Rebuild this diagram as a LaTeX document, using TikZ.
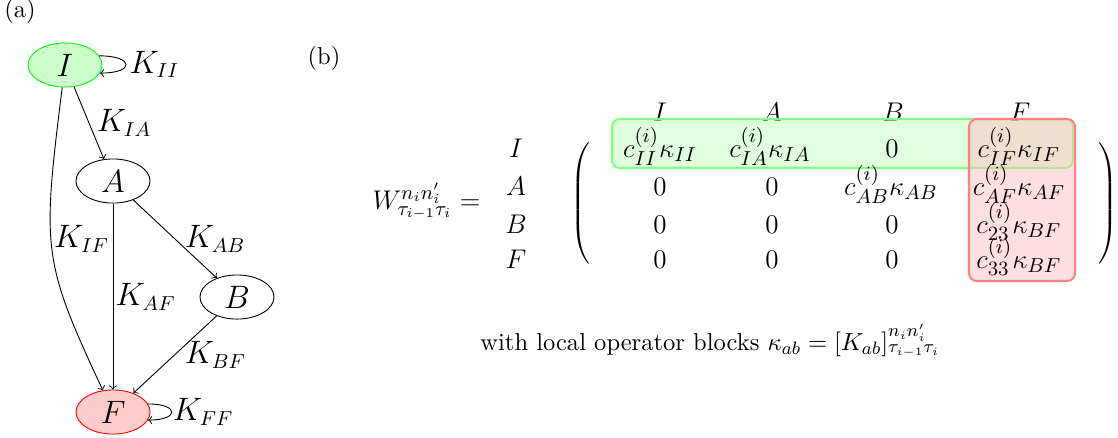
\documentclass[tikz,border=0pt]{standalone}
\usetikzlibrary{shapes.geometric}
\begin{document}
\begin{tikzpicture}[x=0.4444pt,y=-0.4444pt,
  basefont/.style={font=\fontsize{10.9}{13}\selectfont},
  gnode/.style={ellipse, draw, minimum width=32.9pt, minimum height=19.6pt, inner sep=0pt, font=\fontsize{13.5}{16}\selectfont},
  startnode/.style={fill=green!20, draw=green},
  endnode/.style={fill=red!20, draw=red},
  elabel/.style={font=\fontsize{13.5}{16}\selectfont, inner sep=0pt, anchor=west},
  arr/.style={->},
  mtext/.style={font=\fontsize{12.2}{14}\selectfont, inner sep=0pt, anchor=base},
  gbox/.style={draw=green!50, fill=green!25, fill opacity=0.5, line width=0.9pt, rounded corners=3.5pt},
  rbox/.style={draw=red!50, fill=red!25, fill opacity=0.5, line width=0.9pt, rounded corners=3.5pt}]
\useasboundingbox (0,0) rectangle (1118,437);

% ---------- (a) graph ----------
\node[basefont] (la) at (20,11.5) {(a)};
\node[gnode, startnode] (I) at (65,65) {$I$};
\node[gnode] (A) at (113,181) {$A$};
\node[gnode] (B) at (237,297) {$B$};
\node[gnode, endnode] (F) at (113,412) {$F$};

\coordinate (c1) at (42,250);
\coordinate (c2) at (42,260);

\draw[arr] (I) -- node[elabel, xshift=3.3pt] {$K_{IA}$} (A);
\draw[arr] (A) -- node[elabel, xshift=4.2pt] {$K_{AB}$} (B);
\draw[arr] (A) -- node[elabel, xshift=1pt] {$K_{AF}$} (F);
\draw[arr] (B) -- node[elabel, xshift=4.2pt] {$K_{BF}$} (F);
\draw[arr] (I) .. controls (c1) and (c2) .. node[elabel, pos=0.45, xshift=1.2pt] {$K_{IF}$} (F);
\draw[arr] (I.15) to[out=0, in=0, distance=15.6pt] node[elabel, xshift=1.5pt] {$K_{II}$} (I.-13);
\draw[arr] (F.13) to[out=0, in=0, distance=14pt] node[elabel, xshift=0.4pt] {$K_{FF}$} (F.-13);

% ---------- (b) matrix ----------
\node[basefont] (lb) at (324,58.5) {(b)};

\node[mtext, anchor=base east] (W) at (481,209) {$W^{n_in_i'}_{\tau_{i-1}\tau_i} =$};

\node[mtext] (rI) at (516,157) {$I$};
\node[mtext] (rA) at (516,195) {$A$};
\node[mtext] (rB) at (516,233) {$B$};
\node[mtext] (rF) at (516,268) {$F$};

\node[mtext] (hI) at (660,121) {$I$};
\node[mtext] (hA) at (772,121) {$A$};
\node[mtext] (hB) at (893,121) {$B$};
\node[mtext] (hF) at (1020,121) {$F$};

\draw[gbox] (612,119) rectangle (1073,168);
\draw[rbox] (969,119) rectangle (1075,281);

\node[mtext] (m11) at (660,157) {$c^{(i)}_{II}\kappa_{II}$};
\node[mtext] (m12) at (770,157) {$c^{(i)}_{IA}\kappa_{IA}$};
\node[mtext] (m13) at (892,157) {$0$};
\node[mtext] (m14) at (1019,157) {$c^{(i)}_{IF}\kappa_{IF}$};

\node[mtext] (m21) at (660,195) {$0$};
\node[mtext] (m22) at (772,195) {$0$};
\node[mtext] (m23) at (891,195) {$c^{(i)}_{AB}\kappa_{AB}$};
\node[mtext] (m24) at (1019,195) {$c^{(i)}_{AF}\kappa_{AF}$};

\node[mtext] (m31) at (660,233) {$0$};
\node[mtext] (m32) at (772,233) {$0$};
\node[mtext] (m33) at (892,233) {$0$};
\node[mtext] (m34) at (1019,233) {$c^{(i)}_{23}\kappa_{BF}$};

\node[mtext] (m41) at (660,268) {$0$};
\node[mtext] (m42) at (772,268) {$0$};
\node[mtext] (m43) at (892,268) {$0$};
\node[mtext] (m44) at (1019,268) {$c^{(i)}_{33}\kappa_{BF}$};

\node[font=\fontsize{11.5}{14}\selectfont, inner sep=0pt] (lp) at (581.5,203.5) {$\left(\vcenter{\hrule height 29pt depth 29pt width 0pt}\right.$};
\node[font=\fontsize{11.5}{14}\selectfont, inner sep=0pt] (rp) at (1106.5,203.5) {$\left.\vcenter{\hrule height 29pt depth 29pt width 0pt}\right)$};

\node[basefont, anchor=base west, inner sep=0pt] (note) at (480,350) {with local operator blocks $\kappa_{ab} = [K_{ab}]^{n_in_i'}_{\tau_{i-1}\tau_i}$};
\end{tikzpicture}
\end{document}
